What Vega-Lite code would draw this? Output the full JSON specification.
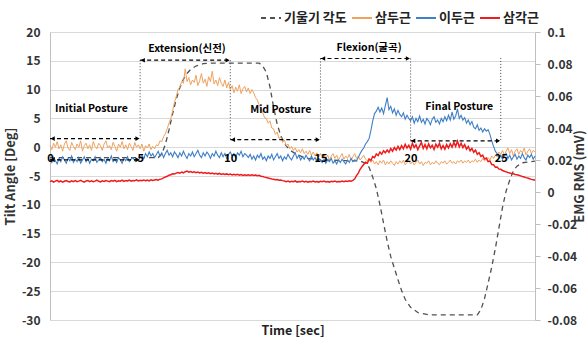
{
"$schema":"https://vega.github.io/schema/vega-lite/v6.json",
"width":485,"height":288,
"autosize":{"type":"none"},
"padding":{"left":50,"top":32,"right":52,"bottom":24},
"config":{"font":"Noto Sans CJK KR","view":{"stroke":null}},
"datasets":{
"tilt":[{"t":0,"deg":-1.8},{"t":6.0,"deg":-1.8},{"t":6.2,"deg":-1.2},{"t":6.4,"deg":0.5},{"t":6.6,"deg":3.0},{"t":6.8,"deg":5.8},{"t":7.0,"deg":8.3},{"t":7.2,"deg":10.3},{"t":7.4,"deg":11.8},{"t":7.6,"deg":12.8},{"t":7.8,"deg":13.5},{"t":8.1,"deg":14.1},{"t":8.5,"deg":14.5},{"t":9.0,"deg":14.6},{"t":11.6,"deg":14.6},{"t":11.8,"deg":14.1},{"t":12.0,"deg":13.0},{"t":12.2,"deg":10.5},{"t":12.4,"deg":7.0},{"t":12.6,"deg":4.0},{"t":12.8,"deg":2.0},{"t":13.0,"deg":0.6},{"t":13.3,"deg":-0.5},{"t":13.7,"deg":-1.3},{"t":14.2,"deg":-1.9},{"t":15.0,"deg":-2.2},{"t":17.2,"deg":-2.4},{"t":17.5,"deg":-2.8},{"t":17.7,"deg":-3.5},{"t":17.9,"deg":-5.2},{"t":18.1,"deg":-7.2},{"t":18.3,"deg":-10.0},{"t":18.5,"deg":-13.2},{"t":18.7,"deg":-16.3},{"t":18.9,"deg":-19.0},{"t":19.1,"deg":-21.0},{"t":19.3,"deg":-23.0},{"t":19.5,"deg":-24.9},{"t":19.7,"deg":-26.4},{"t":20.0,"deg":-27.8},{"t":20.4,"deg":-28.7},{"t":21.0,"deg":-29.1},{"t":23.7,"deg":-29.1},{"t":23.9,"deg":-28.2},{"t":24.1,"deg":-26.3},{"t":24.3,"deg":-23.6},{"t":24.5,"deg":-20.8},{"t":24.7,"deg":-17.6},{"t":24.9,"deg":-14.0},{"t":25.1,"deg":-10.4},{"t":25.3,"deg":-7.6},{"t":25.5,"deg":-5.7},{"t":25.7,"deg":-4.1},{"t":25.9,"deg":-3.3},{"t":26.2,"deg":-2.7},{"t":26.9,"deg":-2.4}],
"arrows":[{"t":0,"t2":5,"y":1.5},{"t":0,"t2":5,"y":-2.2},{"t":5,"t2":10,"y":15.1},{"t":10,"t2":15,"y":1.3},{"t":15,"t2":20,"y":15.4},{"t":20,"t2":25,"y":1.1}],
"heads":[{"t":0.15,"y":1.5,"d":"l"},{"t":4.85,"y":1.5,"d":"r"},{"t":0.15,"y":-2.2,"d":"l"},{"t":4.85,"y":-2.2,"d":"r"},{"t":5.15,"y":15.1,"d":"l"},{"t":9.85,"y":15.1,"d":"r"},{"t":10.15,"y":1.3,"d":"l"},{"t":14.85,"y":1.3,"d":"r"},{"t":15.15,"y":15.4,"d":"l"},{"t":19.85,"y":15.4,"d":"r"},{"t":20.15,"y":1.1,"d":"l"},{"t":24.85,"y":1.1,"d":"r"}],
"vlines":[{"t":5,"y":15.1,"y2":1.5},{"t":10,"y":15.1,"y2":1.3},{"t":15,"y":15.4,"y2":1.3},{"t":20,"y":15.4,"y2":1.1},{"t":25,"y":15.5,"y2":1.1}],
"labels":[{"t":2.3,"y":6.6,"text":"Initial Posture"},{"t":7.6,"y":17.0,"text":"Extension(신전)"},{"t":12.8,"y":6.5,"text":"Mid  Posture"},{"t":17.7,"y":17.2,"text":"Flexion(굴곡)"},{"t":22.7,"y":7.0,"text":"Final Posture"}],
"emg":[
{"t":0,"o":0.0290,"b":0.0205,"r":0.0065},{"t":0.1,"o":0.0265,"b":0.0185,"r":0.0070},{"t":0.2,"o":0.0305,"b":0.0215,"r":0.0062},{"t":0.3,"o":0.0280,"b":0.0195,"r":0.0068},{"t":0.4,"o":0.0315,"b":0.0175,"r":0.0073},{"t":0.5,"o":0.0270,"b":0.0210,"r":0.0064},{"t":0.6,"o":0.0295,"b":0.0190,"r":0.0069},{"t":0.7,"o":0.0255,"b":0.0220,"r":0.0061},{"t":0.8,"o":0.0300,"b":0.0200,"r":0.0067},{"t":0.9,"o":0.0320,"b":0.0180,"r":0.0072},
{"t":1.0,"o":0.0275,"b":0.0210,"r":0.0066},{"t":1.1,"o":0.0260,"b":0.0195,"r":0.0063},{"t":1.2,"o":0.0310,"b":0.0225,"r":0.0070},{"t":1.3,"o":0.0285,"b":0.0185,"r":0.0065},{"t":1.4,"o":0.0265,"b":0.0205,"r":0.0071},{"t":1.5,"o":0.0300,"b":0.0190,"r":0.0064},{"t":1.6,"o":0.0280,"b":0.0215,"r":0.0068},{"t":1.7,"o":0.0320,"b":0.0180,"r":0.0073},{"t":1.8,"o":0.0255,"b":0.0200,"r":0.0066},{"t":1.9,"o":0.0290,"b":0.0220,"r":0.0062},
{"t":2.0,"o":0.0305,"b":0.0190,"r":0.0069},{"t":2.1,"o":0.0270,"b":0.0210,"r":0.0072},{"t":2.2,"o":0.0295,"b":0.0180,"r":0.0065},{"t":2.3,"o":0.0260,"b":0.0205,"r":0.0070},{"t":2.4,"o":0.0315,"b":0.0195,"r":0.0064},{"t":2.5,"o":0.0285,"b":0.0220,"r":0.0068},{"t":2.6,"o":0.0270,"b":0.0185,"r":0.0074},{"t":2.7,"o":0.0305,"b":0.0200,"r":0.0067},{"t":2.8,"o":0.0290,"b":0.0215,"r":0.0063},{"t":2.9,"o":0.0260,"b":0.0190,"r":0.0070},
{"t":3.0,"o":0.0300,"b":0.0205,"r":0.0066},{"t":3.1,"o":0.0320,"b":0.0180,"r":0.0072},{"t":3.2,"o":0.0275,"b":0.0210,"r":0.0068},{"t":3.3,"o":0.0290,"b":0.0195,"r":0.0064},{"t":3.4,"o":0.0265,"b":0.0225,"r":0.0071},{"t":3.5,"o":0.0310,"b":0.0190,"r":0.0067},{"t":3.6,"o":0.0285,"b":0.0205,"r":0.0073},{"t":3.7,"o":0.0255,"b":0.0185,"r":0.0065},{"t":3.8,"o":0.0300,"b":0.0215,"r":0.0070},{"t":3.9,"o":0.0280,"b":0.0200,"r":0.0068},
{"t":4.0,"o":0.0315,"b":0.0180,"r":0.0074},{"t":4.1,"o":0.0270,"b":0.0210,"r":0.0066},{"t":4.2,"o":0.0295,"b":0.0195,"r":0.0071},{"t":4.3,"o":0.0265,"b":0.0220,"r":0.0069},{"t":4.4,"o":0.0305,"b":0.0190,"r":0.0075},{"t":4.5,"o":0.0285,"b":0.0205,"r":0.0068},{"t":4.6,"o":0.0260,"b":0.0215,"r":0.0072},{"t":4.7,"o":0.0310,"b":0.0195,"r":0.0070},{"t":4.8,"o":0.0280,"b":0.0210,"r":0.0076},{"t":4.9,"o":0.0295,"b":0.0200,"r":0.0069},
{"t":5.0,"o":0.0270,"b":0.0215,"r":0.0073},{"t":5.1,"o":0.0300,"b":0.0230,"r":0.0070},{"t":5.2,"o":0.0255,"b":0.0210,"r":0.0075},{"t":5.3,"o":0.0290,"b":0.0240,"r":0.0071},{"t":5.4,"o":0.0275,"b":0.0220,"r":0.0074},{"t":5.5,"o":0.0300,"b":0.0250,"r":0.0069},{"t":5.6,"o":0.0265,"b":0.0225,"r":0.0076},{"t":5.7,"o":0.0285,"b":0.0240,"r":0.0072},{"t":5.8,"o":0.0270,"b":0.0215,"r":0.0075},{"t":5.9,"o":0.0295,"b":0.0235,"r":0.0078},
{"t":6.0,"o":0.0290,"b":0.0255,"r":0.0074},{"t":6.1,"o":0.0320,"b":0.0225,"r":0.0080},{"t":6.2,"o":0.0315,"b":0.0245,"r":0.0082},{"t":6.3,"o":0.0345,"b":0.0215,"r":0.0088},{"t":6.4,"o":0.0365,"b":0.0240,"r":0.0094},{"t":6.5,"o":0.0395,"b":0.0260,"r":0.0098},{"t":6.6,"o":0.0430,"b":0.0230,"r":0.0105},{"t":6.7,"o":0.0460,"b":0.0245,"r":0.0108},{"t":6.8,"o":0.0505,"b":0.0220,"r":0.0114},{"t":6.9,"o":0.0560,"b":0.0250,"r":0.0112},
{"t":7.0,"o":0.0595,"b":0.0235,"r":0.0118},{"t":7.1,"o":0.0640,"b":0.0215,"r":0.0121},{"t":7.2,"o":0.0655,"b":0.0245,"r":0.0117},{"t":7.3,"o":0.0690,"b":0.0225,"r":0.0124},{"t":7.4,"o":0.0680,"b":0.0255,"r":0.0120},{"t":7.5,"o":0.0770,"b":0.0230,"r":0.0127},{"t":7.6,"o":0.0690,"b":0.0210,"r":0.0131},{"t":7.7,"o":0.0715,"b":0.0240,"r":0.0124},{"t":7.8,"o":0.0670,"b":0.0225,"r":0.0128},{"t":7.9,"o":0.0700,"b":0.0250,"r":0.0122},
{"t":8.0,"o":0.0685,"b":0.0220,"r":0.0126},{"t":8.1,"o":0.0730,"b":0.0240,"r":0.0121},{"t":8.2,"o":0.0665,"b":0.0260,"r":0.0125},{"t":8.3,"o":0.0695,"b":0.0230,"r":0.0119},{"t":8.4,"o":0.0740,"b":0.0215,"r":0.0123},{"t":8.5,"o":0.0680,"b":0.0245,"r":0.0118},{"t":8.6,"o":0.0705,"b":0.0225,"r":0.0122},{"t":8.7,"o":0.0660,"b":0.0250,"r":0.0116},{"t":8.8,"o":0.0720,"b":0.0235,"r":0.0120},{"t":8.9,"o":0.0690,"b":0.0210,"r":0.0114},
{"t":9.0,"o":0.0755,"b":0.0240,"r":0.0118},{"t":9.1,"o":0.0675,"b":0.0225,"r":0.0113},{"t":9.2,"o":0.0700,"b":0.0255,"r":0.0117},{"t":9.3,"o":0.0665,"b":0.0230,"r":0.0112},{"t":9.4,"o":0.0715,"b":0.0215,"r":0.0116},{"t":9.5,"o":0.0680,"b":0.0245,"r":0.0110},{"t":9.6,"o":0.0660,"b":0.0220,"r":0.0114},{"t":9.7,"o":0.0700,"b":0.0240,"r":0.0109},{"t":9.8,"o":0.0650,"b":0.0210,"r":0.0113},{"t":9.9,"o":0.0685,"b":0.0235,"r":0.0108},
{"t":10.0,"o":0.0640,"b":0.0250,"r":0.0112},{"t":10.1,"o":0.0665,"b":0.0225,"r":0.0107},{"t":10.2,"o":0.0620,"b":0.0240,"r":0.0111},{"t":10.3,"o":0.0655,"b":0.0215,"r":0.0106},{"t":10.4,"o":0.0630,"b":0.0245,"r":0.0110},{"t":10.5,"o":0.0670,"b":0.0230,"r":0.0105},{"t":10.6,"o":0.0615,"b":0.0255,"r":0.0109},{"t":10.7,"o":0.0645,"b":0.0220,"r":0.0104},{"t":10.8,"o":0.0660,"b":0.0240,"r":0.0108},{"t":10.9,"o":0.0625,"b":0.0230,"r":0.0103},
{"t":11.0,"o":0.0650,"b":0.0215,"r":0.0107},{"t":11.1,"o":0.0615,"b":0.0235,"r":0.0104},{"t":11.2,"o":0.0640,"b":0.0205,"r":0.0108},{"t":11.3,"o":0.0620,"b":0.0225,"r":0.0103},{"t":11.4,"o":0.0590,"b":0.0200,"r":0.0106},{"t":11.5,"o":0.0575,"b":0.0230,"r":0.0102},{"t":11.6,"o":0.0545,"b":0.0215,"r":0.0104},{"t":11.7,"o":0.0520,"b":0.0240,"r":0.0099},{"t":11.8,"o":0.0495,"b":0.0205,"r":0.0097},{"t":11.9,"o":0.0465,"b":0.0220,"r":0.0093},
{"t":12.0,"o":0.0460,"b":0.0195,"r":0.0091},{"t":12.1,"o":0.0430,"b":0.0225,"r":0.0087},{"t":12.2,"o":0.0445,"b":0.0210,"r":0.0085},{"t":12.3,"o":0.0400,"b":0.0235,"r":0.0081},{"t":12.4,"o":0.0395,"b":0.0200,"r":0.0080},{"t":12.5,"o":0.0360,"b":0.0220,"r":0.0077},{"t":12.6,"o":0.0375,"b":0.0240,"r":0.0078},{"t":12.7,"o":0.0335,"b":0.0210,"r":0.0074},{"t":12.8,"o":0.0345,"b":0.0225,"r":0.0075},{"t":12.9,"o":0.0310,"b":0.0195,"r":0.0071},
{"t":13.0,"o":0.0325,"b":0.0220,"r":0.0069},{"t":13.1,"o":0.0290,"b":0.0205,"r":0.0065},{"t":13.2,"o":0.0300,"b":0.0235,"r":0.0068},{"t":13.3,"o":0.0270,"b":0.0215,"r":0.0063},{"t":13.4,"o":0.0285,"b":0.0200,"r":0.0067},{"t":13.5,"o":0.0260,"b":0.0225,"r":0.0064},{"t":13.6,"o":0.0275,"b":0.0245,"r":0.0069},{"t":13.7,"o":0.0250,"b":0.0210,"r":0.0062},{"t":13.8,"o":0.0265,"b":0.0230,"r":0.0066},{"t":13.9,"o":0.0245,"b":0.0200,"r":0.0064},
{"t":14.0,"o":0.0270,"b":0.0220,"r":0.0068},{"t":14.1,"o":0.0240,"b":0.0205,"r":0.0063},{"t":14.2,"o":0.0255,"b":0.0230,"r":0.0067},{"t":14.3,"o":0.0235,"b":0.0210,"r":0.0062},{"t":14.4,"o":0.0260,"b":0.0195,"r":0.0066},{"t":14.5,"o":0.0230,"b":0.0225,"r":0.0064},{"t":14.6,"o":0.0250,"b":0.0200,"r":0.0068},{"t":14.7,"o":0.0225,"b":0.0215,"r":0.0063},{"t":14.8,"o":0.0245,"b":0.0190,"r":0.0066},{"t":14.9,"o":0.0220,"b":0.0210,"r":0.0062},
{"t":15.0,"o":0.0240,"b":0.0200,"r":0.0067},{"t":15.1,"o":0.0215,"b":0.0185,"r":0.0064},{"t":15.2,"o":0.0235,"b":0.0205,"r":0.0068},{"t":15.3,"o":0.0205,"b":0.0180,"r":0.0063},{"t":15.4,"o":0.0230,"b":0.0200,"r":0.0066},{"t":15.5,"o":0.0200,"b":0.0190,"r":0.0062},{"t":15.6,"o":0.0225,"b":0.0210,"r":0.0067},{"t":15.7,"o":0.0240,"b":0.0180,"r":0.0064},{"t":15.8,"o":0.0210,"b":0.0195,"r":0.0069},{"t":15.9,"o":0.0230,"b":0.0175,"r":0.0063},
{"t":16.0,"o":0.0200,"b":0.0200,"r":0.0066},{"t":16.1,"o":0.0220,"b":0.0185,"r":0.0064},{"t":16.2,"o":0.0240,"b":0.0205,"r":0.0068},{"t":16.3,"o":0.0205,"b":0.0190,"r":0.0065},{"t":16.4,"o":0.0225,"b":0.0175,"r":0.0069},{"t":16.5,"o":0.0210,"b":0.0200,"r":0.0066},{"t":16.6,"o":0.0235,"b":0.0185,"r":0.0070},{"t":16.7,"o":0.0200,"b":0.0210,"r":0.0067},{"t":16.8,"o":0.0220,"b":0.0190,"r":0.0072},{"t":16.9,"o":0.0240,"b":0.0200,"r":0.0082},
{"t":17.0,"o":0.0210,"b":0.0195,"r":0.0102},{"t":17.1,"o":0.0225,"b":0.0215,"r":0.0118},{"t":17.2,"o":0.0200,"b":0.0240,"r":0.0142},{"t":17.3,"o":0.0215,"b":0.0260,"r":0.0158},{"t":17.4,"o":0.0230,"b":0.0275,"r":0.0172},{"t":17.5,"o":0.0205,"b":0.0300,"r":0.0186},{"t":17.6,"o":0.0195,"b":0.0315,"r":0.0180},{"t":17.7,"o":0.0210,"b":0.0335,"r":0.0205},{"t":17.8,"o":0.0185,"b":0.0385,"r":0.0198},{"t":17.9,"o":0.0200,"b":0.0445,"r":0.0222},
{"t":18.0,"o":0.0175,"b":0.0490,"r":0.0215},{"t":18.1,"o":0.0190,"b":0.0505,"r":0.0238},{"t":18.2,"o":0.0170,"b":0.0530,"r":0.0228},{"t":18.3,"o":0.0195,"b":0.0500,"r":0.0250},{"t":18.4,"o":0.0180,"b":0.0525,"r":0.0236},{"t":18.5,"o":0.0200,"b":0.0490,"r":0.0258},{"t":18.6,"o":0.0170,"b":0.0540,"r":0.0245},{"t":18.7,"o":0.0190,"b":0.0590,"r":0.0262},{"t":18.8,"o":0.0175,"b":0.0515,"r":0.0248},{"t":18.9,"o":0.0195,"b":0.0535,"r":0.0272},
{"t":19.0,"o":0.0180,"b":0.0495,"r":0.0255},{"t":19.1,"o":0.0165,"b":0.0520,"r":0.0278},{"t":19.2,"o":0.0190,"b":0.0480,"r":0.0262},{"t":19.3,"o":0.0175,"b":0.0510,"r":0.0285},{"t":19.4,"o":0.0195,"b":0.0485,"r":0.0265},{"t":19.5,"o":0.0180,"b":0.0470,"r":0.0290},{"t":19.6,"o":0.0200,"b":0.0495,"r":0.0270},{"t":19.7,"o":0.0170,"b":0.0455,"r":0.0298},{"t":19.8,"o":0.0185,"b":0.0480,"r":0.0275},{"t":19.9,"o":0.0195,"b":0.0460,"r":0.0292},
{"t":20.0,"o":0.0175,"b":0.0445,"r":0.0268},{"t":20.1,"o":0.0190,"b":0.0470,"r":0.0305},{"t":20.2,"o":0.0170,"b":0.0430,"r":0.0278},{"t":20.3,"o":0.0185,"b":0.0460,"r":0.0295},{"t":20.4,"o":0.0200,"b":0.0440,"r":0.0265},{"t":20.5,"o":0.0175,"b":0.0475,"r":0.0288},{"t":20.6,"o":0.0190,"b":0.0435,"r":0.0310},{"t":20.7,"o":0.0165,"b":0.0455,"r":0.0272},{"t":20.8,"o":0.0185,"b":0.0425,"r":0.0296},{"t":20.9,"o":0.0180,"b":0.0460,"r":0.0270},
{"t":21.0,"o":0.0195,"b":0.0445,"r":0.0300},{"t":21.1,"o":0.0170,"b":0.0420,"r":0.0276},{"t":21.2,"o":0.0185,"b":0.0455,"r":0.0292},{"t":21.3,"o":0.0175,"b":0.0470,"r":0.0266},{"t":21.4,"o":0.0195,"b":0.0435,"r":0.0298},{"t":21.5,"o":0.0180,"b":0.0450,"r":0.0280},{"t":21.6,"o":0.0170,"b":0.0425,"r":0.0304},{"t":21.7,"o":0.0190,"b":0.0460,"r":0.0270},{"t":21.8,"o":0.0180,"b":0.0440,"r":0.0290},{"t":21.9,"o":0.0195,"b":0.0470,"r":0.0268},
{"t":22.0,"o":0.0175,"b":0.0445,"r":0.0296},{"t":22.1,"o":0.0185,"b":0.0480,"r":0.0275},{"t":22.2,"o":0.0200,"b":0.0450,"r":0.0302},{"t":22.3,"o":0.0180,"b":0.0500,"r":0.0280},{"t":22.4,"o":0.0190,"b":0.0455,"r":0.0310},{"t":22.5,"o":0.0175,"b":0.0475,"r":0.0285},{"t":22.6,"o":0.0195,"b":0.0520,"r":0.0318},{"t":22.7,"o":0.0185,"b":0.0460,"r":0.0282},{"t":22.8,"o":0.0200,"b":0.0480,"r":0.0305},{"t":22.9,"o":0.0180,"b":0.0450,"r":0.0278},
{"t":23.0,"o":0.0195,"b":0.0465,"r":0.0296},{"t":23.1,"o":0.0185,"b":0.0430,"r":0.0268},{"t":23.2,"o":0.0200,"b":0.0450,"r":0.0284},{"t":23.3,"o":0.0180,"b":0.0420,"r":0.0258},{"t":23.4,"o":0.0195,"b":0.0440,"r":0.0272},{"t":23.5,"o":0.0190,"b":0.0405,"r":0.0248},{"t":23.6,"o":0.0205,"b":0.0395,"r":0.0262},{"t":23.7,"o":0.0185,"b":0.0420,"r":0.0236},{"t":23.8,"o":0.0200,"b":0.0385,"r":0.0246},{"t":23.9,"o":0.0190,"b":0.0400,"r":0.0222},
{"t":24.0,"o":0.0210,"b":0.0375,"r":0.0230},{"t":24.1,"o":0.0195,"b":0.0395,"r":0.0206},{"t":24.2,"o":0.0205,"b":0.0380,"r":0.0212},{"t":24.3,"o":0.0215,"b":0.0390,"r":0.0190},{"t":24.4,"o":0.0200,"b":0.0360,"r":0.0194},{"t":24.5,"o":0.0225,"b":0.0320,"r":0.0172},{"t":24.6,"o":0.0210,"b":0.0285,"r":0.0170},{"t":24.7,"o":0.0230,"b":0.0255,"r":0.0155},{"t":24.8,"o":0.0220,"b":0.0240,"r":0.0156},{"t":24.9,"o":0.0250,"b":0.0215,"r":0.0143},
{"t":25.0,"o":0.0235,"b":0.0230,"r":0.0142},{"t":25.1,"o":0.0260,"b":0.0205,"r":0.0134},{"t":25.2,"o":0.0230,"b":0.0225,"r":0.0130},{"t":25.3,"o":0.0255,"b":0.0240,"r":0.0126},{"t":25.4,"o":0.0275,"b":0.0210,"r":0.0122},{"t":25.5,"o":0.0240,"b":0.0230,"r":0.0119},{"t":25.6,"o":0.0265,"b":0.0200,"r":0.0115},{"t":25.7,"o":0.0225,"b":0.0220,"r":0.0114},{"t":25.8,"o":0.0255,"b":0.0235,"r":0.0110},{"t":25.9,"o":0.0270,"b":0.0205,"r":0.0108},
{"t":26.0,"o":0.0235,"b":0.0225,"r":0.0105},{"t":26.1,"o":0.0260,"b":0.0210,"r":0.0101},{"t":26.2,"o":0.0245,"b":0.0240,"r":0.0097},{"t":26.3,"o":0.0275,"b":0.0215,"r":0.0094},{"t":26.4,"o":0.0230,"b":0.0200,"r":0.0090},{"t":26.5,"o":0.0255,"b":0.0230,"r":0.0087},{"t":26.6,"o":0.0270,"b":0.0215,"r":0.0083},{"t":26.7,"o":0.0240,"b":0.0235,"r":0.0079},{"t":26.8,"o":0.0260,"b":0.0205,"r":0.0076},{"t":26.9,"o":0.0250,"b":0.0225,"r":0.0073}
]
},
"encoding":{
"x":{"field":"t","type":"quantitative","scale":{"domain":[0,26.9],"nice":false,"zero":false},
"axis":{"orient":"bottom","offset":-172.8,"values":[0,5,10,15,20,25],"domain":false,"ticks":false,"grid":false,"labelFlush":false,"labelFontSize":11,"labelFontWeight":"bold","labelColor":"#000","labelPadding":5,"title":"Time [sec]","titleFontSize":12.5,"titleFontWeight":"bold","titleColor":"#222","titleBaseline":"middle","titleY":183,"zindex":1}}
},
"layer":[
{"data":{"name":"tilt"},"mark":{"type":"line","strokeWidth":1.3},
"encoding":{
"y":{"field":"deg","type":"quantitative","scale":{"domain":[-30,20],"nice":false,"zero":false},
"axis":{"orient":"left","values":[-30,-25,-20,-15,-10,-5,0,5,10,15,20],"grid":true,"gridColor":"#D9D9D9","gridWidth":1,"domain":true,"domainColor":"#BFBFBF","ticks":false,"labelFontSize":12,"labelFontWeight":"bold","labelColor":"#333","labelPadding":10,"labelExpr":"'' + datum.value","title":"Tilt Angle [Deg]","titleFontSize":13,"titleFontWeight":"bold","titleColor":"#333","titlePadding":4}},
"color":{"datum":"기울기 각도","scale":{"domain":["기울기 각도","삼두근","이두근","삼각근"],"range":["#505050","#EFA25E","#3F7FC6","#EE1C1C"]},
"legend":{"orient":"none","legendX":210,"legendY":-25,"direction":"horizontal","title":null,"symbolType":"stroke","symbolSize":400,"symbolStrokeWidth":2,"labelFontSize":13,"labelFontWeight":"bold","labelColor":"#222","labelOffset":2,"columnPadding":1,"padding":0}},
"strokeDash":{"datum":"기울기 각도","scale":{"domain":["기울기 각도","삼두근","이두근","삼각근"],"range":[[5,4],[1,0],[1,0],[1,0]]},
"legend":{"orient":"none","legendX":210,"legendY":-25,"direction":"horizontal","title":null,"symbolType":"stroke","symbolSize":400,"symbolStrokeWidth":2,"labelFontSize":13,"labelFontWeight":"bold","labelColor":"#222","labelOffset":2,"columnPadding":1,"padding":0}}
}},
{"data":{"name":"emg"},"mark":{"type":"line","strokeWidth":1},"encoding":{"y":{"field":"o","type":"quantitative","scale":{"domain":[-0.08,0.1],"nice":false,"zero":false},
"axis":{"orient":"right","values":[-0.08,-0.06,-0.04,-0.02,0,0.02,0.04,0.06,0.08,0.1],"grid":false,"domain":true,"domainColor":"#BFBFBF","ticks":true,"tickColor":"#BFBFBF","tickSize":5,"labelFontSize":12,"labelFontWeight":"bold","labelColor":"#333","labelPadding":7,"labelOverlap":false,"labelExpr":"'' + datum.value","title":"EMG RMS (mV)","titleFontSize":13,"titleFontWeight":"bold","titleColor":"#333","titleAngle":270,"titleBaseline":"middle","titleAlign":"center","titleX":44,"titleY":144}},
"color":{"datum":"삼두근"}}},
{"data":{"name":"emg"},"mark":{"type":"line","strokeWidth":1.1},"encoding":{"y":{"field":"b","type":"quantitative","scale":{"domain":[-0.08,0.1],"nice":false,"zero":false},"axis":null},"color":{"datum":"이두근"}}},
{"data":{"name":"emg"},"mark":{"type":"line","strokeWidth":1.5},"encoding":{"y":{"field":"r","type":"quantitative","scale":{"domain":[-0.08,0.1],"nice":false,"zero":false},"axis":null},"color":{"datum":"삼각근"}}},
{"layer":[
{"data":{"name":"vlines"},"mark":{"type":"rule","strokeDash":[1,2],"color":"#444","strokeWidth":1},
"encoding":{"y":{"field":"y","type":"quantitative","scale":{"domain":[-30,20],"nice":false,"zero":false},"axis":null},"y2":{"field":"y2"}}},
{"data":{"name":"arrows"},"mark":{"type":"rule","strokeDash":[4,3],"color":"#000","strokeWidth":1.2},
"encoding":{"y":{"field":"y","type":"quantitative","axis":null},"x2":{"field":"t2"}}},
{"data":{"name":"heads"},"mark":{"type":"point","filled":true,"color":"#000","size":22,"opacity":1},
"encoding":{"y":{"field":"y","type":"quantitative","axis":null},"shape":{"field":"d","type":"nominal","scale":{"domain":["l","r"],"range":["triangle-left","triangle-right"]},"legend":null}}},
{"data":{"name":"labels"},"mark":{"type":"text","fontSize":10.5,"fontWeight":"bold","color":"#000"},
"encoding":{"y":{"field":"y","type":"quantitative","axis":null},"text":{"field":"text"}}}
]}
],
"resolve":{"scale":{"y":"independent"}}
}
